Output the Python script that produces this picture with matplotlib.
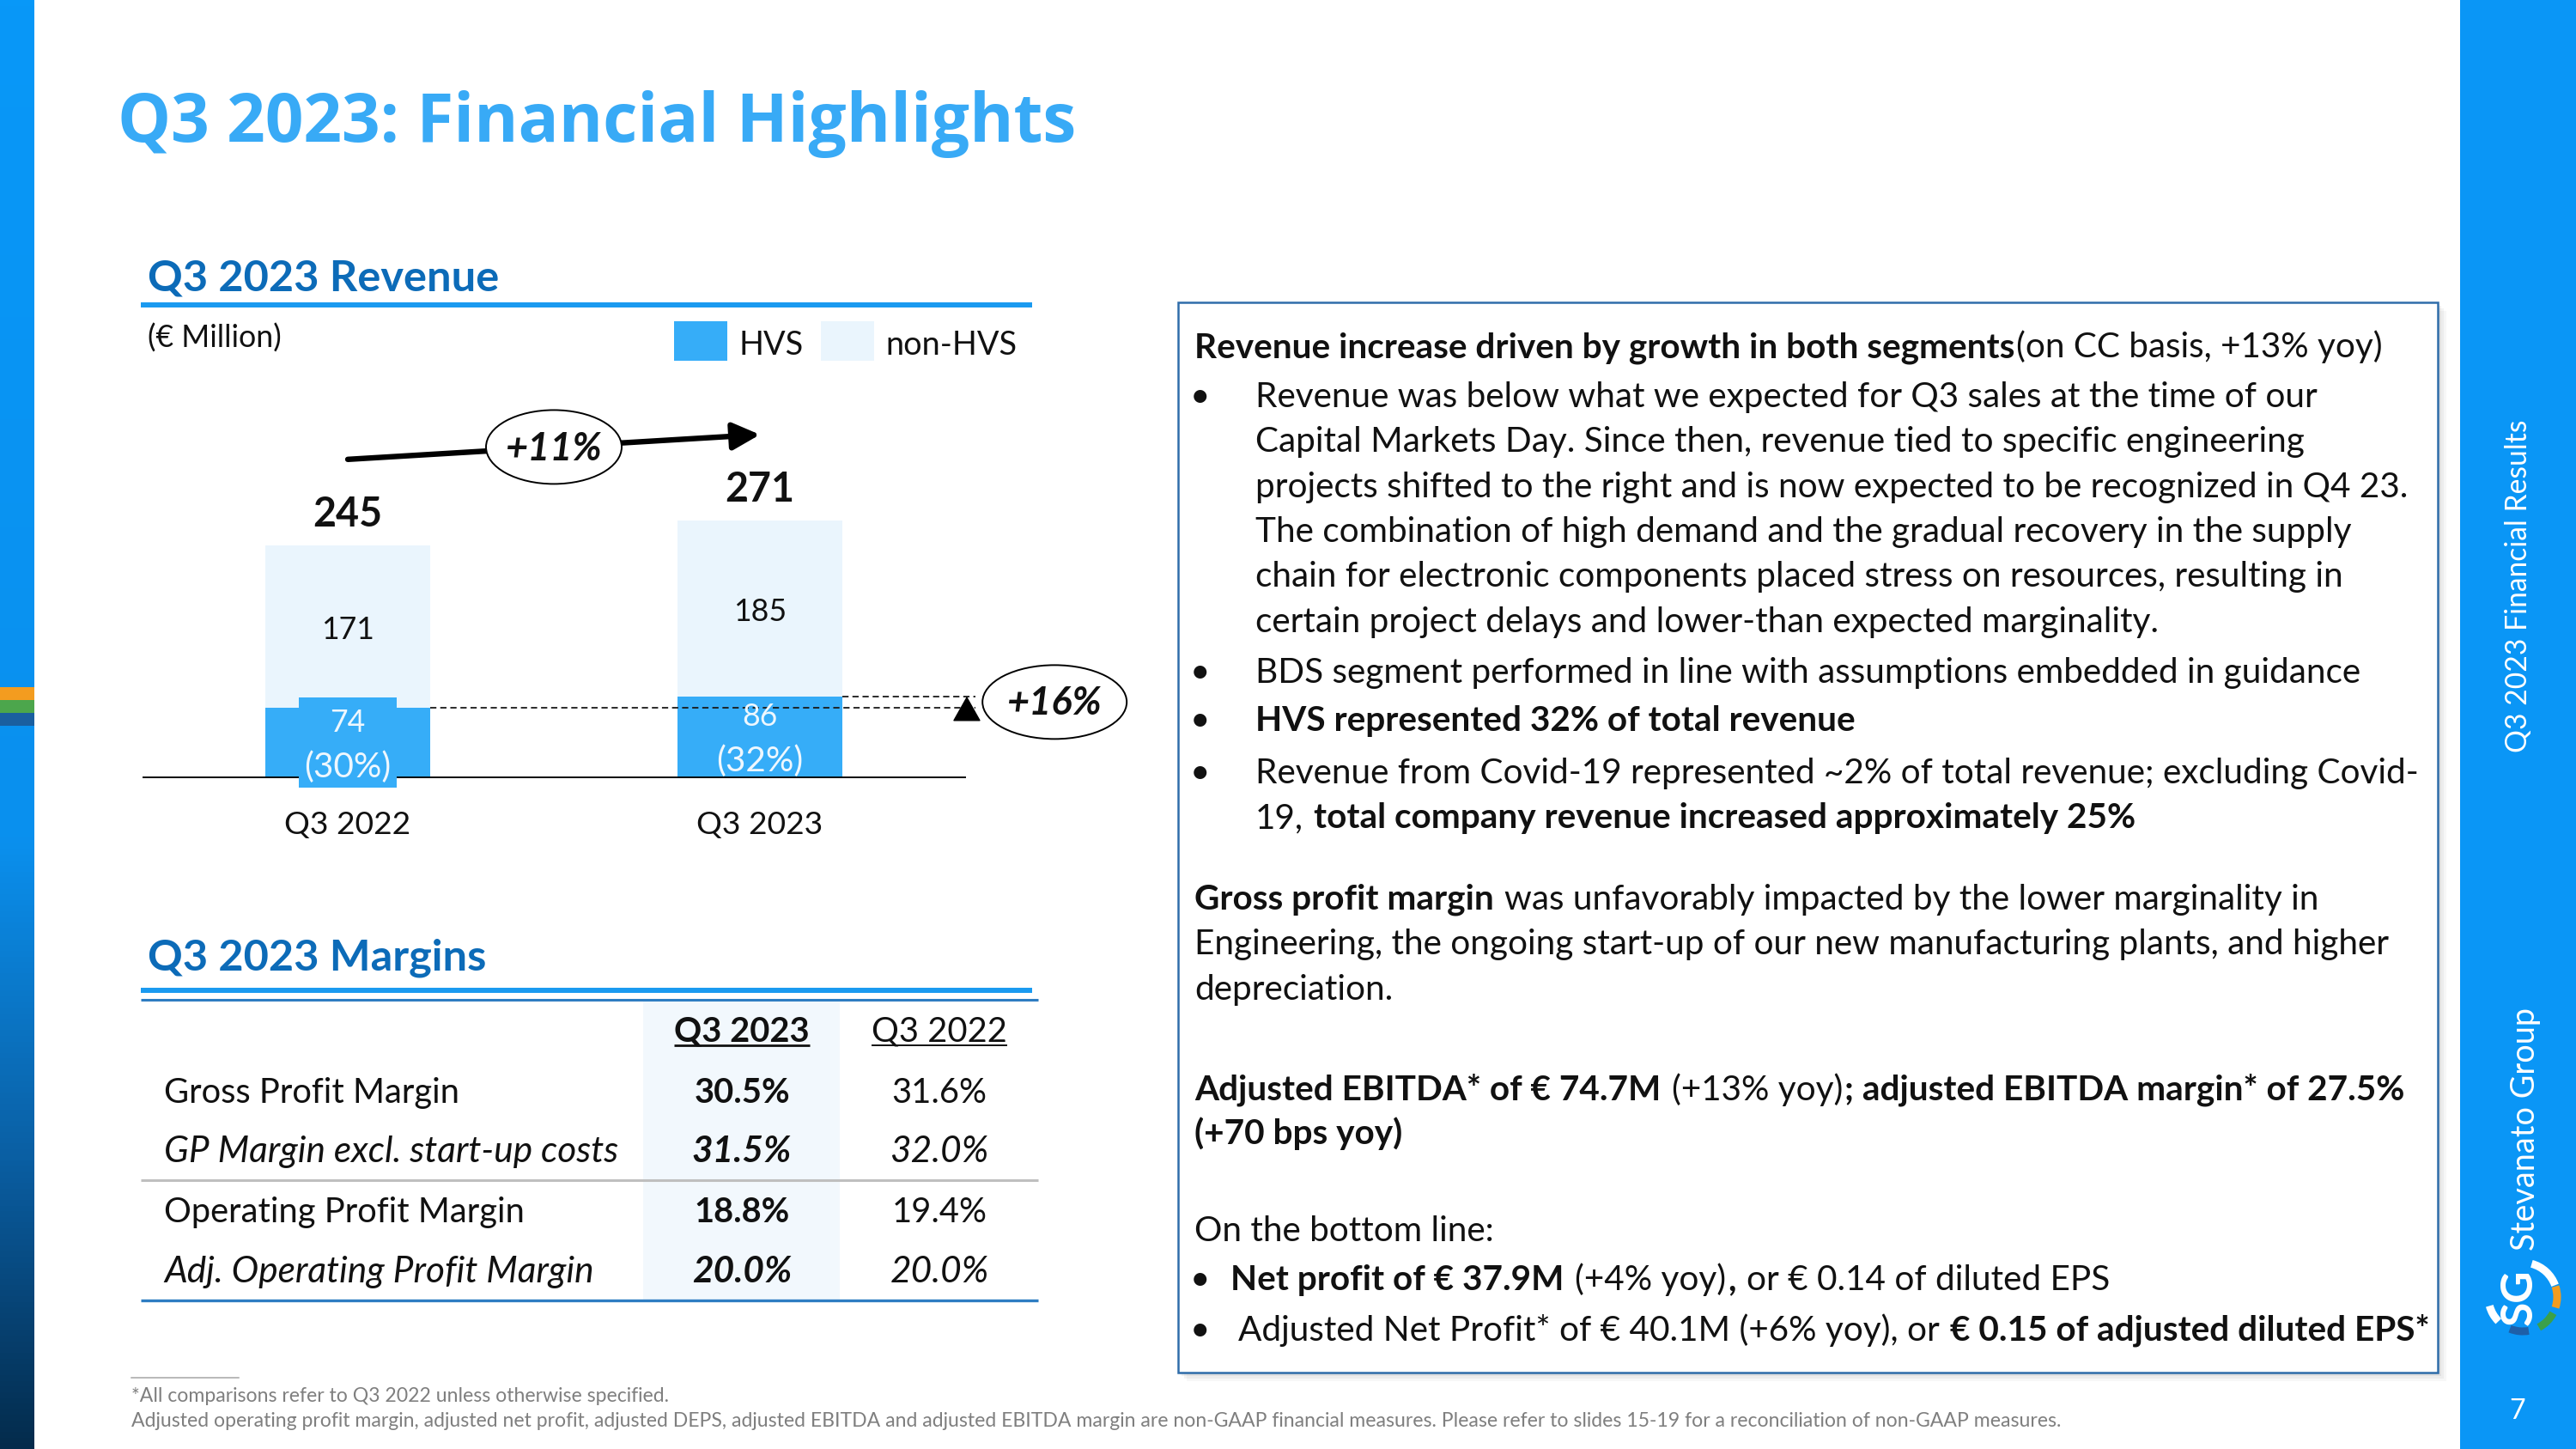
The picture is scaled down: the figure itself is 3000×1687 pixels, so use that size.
import numpy as np
import matplotlib
matplotlib.use('Agg')
import matplotlib.pyplot as plt
from matplotlib.patches import Rectangle, Ellipse, Arc
from matplotlib.colors import LinearSegmentedColormap

# данные слайда
quarters = ['Q3 2022', 'Q3 2023']
hvs = [74, 86]
non_hvs = [171, 185]
totals = [245, 271]
hvs_pct = ['(30%)', '(32%)']
series = ['HVS', 'non-HVS']
growth_total = '+11%'
growth_hvs = '+16%'

margin_labels = ['Gross Profit Margin', 'GP Margin excl. start-up costs',
                 'Operating Profit Margin', 'Adj. Operating Profit Margin']
margin_italic = [False, True, False, True]
margin_cols = ['Q3 2023', 'Q3 2022']
margin_q3_23 = [30.5, 31.5, 18.8, 20.0]
margin_q3_22 = [31.6, 32.0, 19.4, 20.0]

# цвета
BAR_HVS = '#36ADF8'
BAR_NON = '#EAF5FD'
TITLE_C = '#38AAF6'
HEAD_C = '#0C6BB8'
SIDE_C = '#0A96F6'
INK = '#111111'
BODY = 'Lato'

W, H = 3000, 1687
fig = plt.figure(figsize=(W / 100, H / 100), dpi=100)
bg = fig.add_axes([0, 0, 1, 1])
bg.axis('off')
r = fig.canvas.get_renderer()


def width(s, size, weight='normal', style='normal', family=BODY):
    t = bg.text(0, 0, s, fontsize=size, fontweight=weight, fontstyle=style, family=family)
    w = t.get_window_extent(r).width
    t.remove()
    return w


def fit(s, target, weight='normal', style='normal', family=BODY):
    return 20 * target / width(s, 20, weight, style, family)


def txt(x, y, s, size, **kw):
    kw.setdefault('family', BODY)
    kw.setdefault('va', 'baseline')
    kw.setdefault('color', INK)
    return bg.text(x, y, s, fontsize=size, **kw)


def rich(x, y, parts, size):
    for s, bold in parts:
        w = 'bold' if bold else 'normal'
        sp = width('a a', size, w) - width('aa', size, w)
        core = s.strip(' ')
        x += (len(s) - len(s.lstrip(' '))) * sp
        t = txt(x, y, core, size, fontweight=w)
        x += t.get_window_extent(r).width + (len(s) - len(s.rstrip(' '))) * sp + 2


# фон: левая полоса с градиентом, правая панель
strip = LinearSegmentedColormap.from_list(
    'strip', [(0, '#0898F8'), (0.58, '#0A90EE'), (0.8, '#0A5FA3'), (1, '#042B4C')])
bg.imshow(np.linspace(0, 1, 256)[:, None], cmap=strip, extent=[0, 40, H, 0], aspect='auto')
for y0, c in [(800, '#F39C1F'), (815, '#4CA64C'), (830, '#1A5FA0')]:
    bg.add_patch(Rectangle((0, y0), 40, 15, color=c, lw=0))
bg.add_patch(Rectangle((2865, 0), 135, H, color=SIDE_C, lw=0))
bg.set_xlim(0, W)
bg.set_ylim(H, 0)

# заголовок
title = 'Q3 2023: Financial Highlights'
txt(137, 165, title, fit(title, 1117, 'bold', family='Open Sans'),
    family='Open Sans', fontweight='bold', color=TITLE_C)

# --- выручка ---
s_head = fit('Q3 2023 Revenue', 408, 'bold')
txt(172, 338, 'Q3 2023 Revenue', s_head, fontweight='bold', color=HEAD_C)
bg.plot([164, 1202], [355, 355], color='#1A9AF0', lw=4.3, solid_capstyle='butt')
txt(172, 405, '(€ Million)', fit('(€ Million)', 156))
s_leg = fit('non-HVS', 153)
for (x0, tx), name, c in zip([(785, 861), (956, 1031)], series, [BAR_HVS, BAR_NON]):
    bg.add_patch(Rectangle((x0, 374), 62, 46, color=c, lw=0))
    txt(tx, 413, name, s_leg)

px_unit = 1.108
ax = fig.add_axes([166 / W, (H - 906) / H, 959 / W, 600 / H])
ax.set_xlim(-0.498, 1.5)
ax.set_ylim(0, 600 / px_unit)
ax.axis('off')
x = np.arange(len(quarters))
ax.bar(x, hvs, 0.4, color=BAR_HVS, zorder=2)
ax.bar(x, non_hvs, 0.4, bottom=hvs, color=BAR_NON, zorder=2)
ax.axhline(0, color='black', lw=2.8, zorder=4)
ax.add_patch(Rectangle((x[0] - 0.119, -10), 0.238, hvs[0] + 20.8, color=BAR_HVS,
                       lw=0, zorder=5, clip_on=False))

s_tot = fit('245', 81, 'bold')
s_num = fit('171', 62)
s_pct = fit('(30%)', 101)
s_q = fit('Q3 2022', 147)
lab = dict(textcoords='offset pixels', ha='center', va='baseline', family=BODY,
           annotation_clip=False, zorder=6)
for i in x:
    ax.annotate(str(totals[i]), (i, totals[i]), xytext=(0, 22), fontsize=s_tot,
                fontweight='bold', color=INK, **lab)
    ax.annotate(str(non_hvs[i]), (i, hvs[i] + non_hvs[i] / 2), xytext=(0, -15),
                fontsize=s_num, color=INK, **lab)
    ax.annotate(str(hvs[i]), (i, hvs[i] / 2), xytext=(0, 13), fontsize=s_num,
                color='#EEF7FE', **lab)
    ax.annotate(hvs_pct[i], (i, hvs[i] / 2), xytext=(0, -40), fontsize=s_pct,
                color='#EEF7FE', **lab)
    ax.annotate(quarters[i], (i, 0), xytext=(0, -65), fontsize=s_q, color=INK, **lab)

# стрелка роста +11%
off = 90
ax.annotate('', xy=(x[1], totals[1] + off), xytext=(x[0], totals[0] + off),
            arrowprops=dict(arrowstyle='-|>,head_length=0.8,head_width=0.4',
                            mutation_scale=24, lw=4.6, color='black',
                            shrinkA=0, shrinkB=0), annotation_clip=False)
mid_y = (totals[0] + totals[1]) / 2 + off
ax.add_patch(Ellipse((0.5, mid_y), 158 / 480, 86 / px_unit, facecolor='white',
                     edgecolor='black', lw=1.4, zorder=5, clip_on=False))
s_g = fit('+11%', 113, 'bold', 'italic')
ax.annotate(growth_total, (0.5, mid_y), xytext=(0, -16), fontsize=s_g,
            fontweight='bold', fontstyle='italic', color=INK, **lab)

# пунктир и +16%
xe = 1.502
ax.plot([x[0] + 0.2, xe + 0.02], [hvs[0], hvs[0]], ls=(0, (4, 2.5)), lw=1.3,
        color='#1A1A1A', zorder=3, clip_on=False)
ax.plot([x[1] + 0.2, xe + 0.02], [hvs[1], hvs[1]], ls=(0, (4, 2.5)), lw=1.3,
        color='#1A1A1A', zorder=3, clip_on=False)
ax.annotate('', xy=(xe, hvs[1]), xytext=(xe, hvs[0] - 5),
            arrowprops=dict(arrowstyle='-|>,head_length=0.8,head_width=0.45',
                            mutation_scale=24, lw=1, color='black',
                            shrinkA=0, shrinkB=0), annotation_clip=False)
mid_h = (hvs[0] + hvs[1]) / 2
ax.add_patch(Ellipse((1.715, mid_h), 168 / 480, 86 / px_unit, facecolor='white',
                     edgecolor='black', lw=1.4, zorder=5, clip_on=False))
ax.annotate(growth_hvs, (1.715, mid_h), xytext=(0, -15), fontsize=s_g,
            fontweight='bold', fontstyle='italic', color=INK, **lab)

# --- маржа ---
txt(172, 1130, 'Q3 2023 Margins', s_head, fontweight='bold', color=HEAD_C)
bg.plot([164, 1202], [1153, 1153], color='#1A9AF0', lw=4.3, solid_capstyle='butt')
bg.plot([164, 1209], [1164, 1164], color='#2E7DC2', lw=2.2, solid_capstyle='butt')
bg.add_patch(Rectangle((749, 1166), 229, 347, color='#F2F8FD', lw=0, zorder=0))
bg.plot([164, 1209], [1374, 1374], color='#BFBFBF', lw=2.2, solid_capstyle='butt')
bg.plot([164, 1209], [1514, 1514], color='#2E7DC2', lw=2.4, solid_capstyle='butt')

s_tab = fit('Gross Profit Margin', 344)
s_tab_it = fit('GP Margin excl. start-up costs', 529, style='italic')
col_x = [864, 1094]
for j, name in enumerate(margin_cols):
    wgt = 'bold' if j == 0 else 'normal'
    t = txt(col_x[j], 1212, name, s_tab, ha='center', fontweight=wgt)
    wd = t.get_window_extent(r).width
    bg.plot([col_x[j] - wd / 2, col_x[j] + wd / 2], [1217, 1217], color=INK,
            lw=2.0 if j == 0 else 1.4, solid_capstyle='butt')
row_y = [1284, 1353, 1423, 1493]
for k, name in enumerate(margin_labels):
    st = 'italic' if margin_italic[k] else 'normal'
    sz = s_tab_it if margin_italic[k] else s_tab
    txt(191, row_y[k], name, sz, fontstyle=st)
    txt(col_x[0], row_y[k], f'{margin_q3_23[k]:.1f}%', sz, ha='center',
        fontweight='bold', fontstyle=st)
    txt(col_x[1], row_y[k], f'{margin_q3_22[k]:.1f}%', sz, ha='center', fontstyle=st)

# сноски
bg.plot([153, 278], [1604, 1604], color='#A6A6A6', lw=1.1)
foot1 = '*All comparisons refer to Q3 2022 unless otherwise specified.'
s_foot = fit(foot1, 627)
txt(153, 1632, foot1, s_foot, color='#7F7F7F')
txt(153, 1661, 'Adjusted operating profit margin, adjusted net profit, adjusted DEPS, '
    'adjusted EBITDA and adjusted EBITDA margin are non-GAAP financial measures. '
    'Please refer to slides 15-19 for a reconciliation of non-GAAP measures.',
    s_foot, color='#7F7F7F')

# --- текстовый блок справа ---
for d, a in [(10, 0.05), (7, 0.07), (4, 0.10), (2, 0.12)]:
    bg.add_patch(Rectangle((1372 + d, 352 + d), 1467, 1246, color='#6F6F6F',
                           alpha=a, lw=0, zorder=1))
bg.add_patch(Rectangle((1372, 352), 1467, 1246, facecolor='white',
                       edgecolor='#2F6DAA', lw=1.8, zorder=2))

bullet1 = ['Revenue was below what we expected for Q3 sales at the time of our',
           'Capital Markets Day. Since then, revenue tied to specific engineering',
           'projects shifted to the right and is now expected to be recognized in Q4 23.',
           'The combination of high demand and the gradual recovery in the supply',
           'chain for electronic components placed stress on resources, resulting in',
           'certain project delays and lower-than expected marginality.']
bds = 'BDS segment performed in line with assumptions embedded in guidance'
covid = 'Revenue from Covid-19 represented ~2% of total revenue; excluding Covid-'
eng = 'Engineering, the ongoing start-up of our new manufacturing plants, and higher'

# размер шрифта по средней ширине строк в оригинале
calib = bullet1 + [bds, covid, eng]
calib_w = [1285, 1222, 1337, 1282, 1270, 1061, 1291, 1339, 1398]
s_body = 20 * sum(calib_w) / sum(width(s, 20) for s in calib)

rich(1391, 416, [('Revenue increase driven by growth in both segments', True),
                 ('(on CC basis, +13% yoy)', False)], s_body)
step = 52.3
bx = 1386
for k, line in enumerate(bullet1):
    txt(1462, 474 + k * step, line, s_body)
txt(bx, 474, '•', s_body)
txt(bx, 794.5, '•', s_body)
txt(1462, 794.5, bds, s_body)
txt(bx, 851, '•', s_body)
txt(1462, 851, 'HVS represented 32% of total revenue', s_body, fontweight='bold')
txt(bx, 912, '•', s_body)
txt(1462, 912, covid, s_body)
rich(1462, 964, [('19, ', False), ('total company revenue increased approximately 25%', True)], s_body)

rich(1391, 1059, [('Gross profit margin', True),
                  (' was unfavorably impacted by the lower marginality in', False)], s_body)
txt(1391, 1111, eng, s_body)
txt(1391, 1164, 'depreciation.', s_body)

rich(1391, 1281, [('Adjusted EBITDA* of € 74.7M', True), (' (+13% yoy)', False),
                  ('; adjusted EBITDA margin* of 27.5%', True)], s_body)
txt(1391, 1332, '(+70 bps yoy)', s_body, fontweight='bold')
txt(1391, 1445, 'On the bottom line:', s_body)
txt(bx, 1502, '•', s_body)
rich(1433, 1502, [('Net profit of € 37.9M', True), (' (+4% yoy)', False), (',', True),
                  (' or € 0.14 of diluted EPS', False)], s_body)
txt(bx, 1561, '•', s_body)
rich(1442, 1561, [('Adjusted Net Profit* of € 40.1M (+6% yoy), or ', False),
                  ('€ 0.15 of adjusted diluted EPS*', True)], s_body)

# --- боковая панель ---
side1 = 'Q3 2023 Financial Results'
txt(2933, 682, side1, fit(side1, 388), rotation=90, ha='center', va='center', color='white')
side2 = 'Stevanato Group'
txt(2941, 1314, side2, fit(side2, 283), rotation=90, ha='center', va='center', color='white')
txt(2934, 1510, 'SG', 37, rotation=90, ha='center', va='center', color='white',
    fontweight='bold')
for a1, a2, c in [(20, 75, 'white'), (-18, 18, '#F39C1F'), (-62, -28, '#3BA04A'),
                  (-112, -80, '#1E5FA8'), (195, 225, 'white')]:
    bg.add_patch(Arc((2938, 1510), 80, 80, theta1=-a2, theta2=-a1, color=c, lw=6.5))
txt(2932, 1643, '7', 23, ha='center', va='center', color='white')

fig.savefig('out.png', dpi=100)
